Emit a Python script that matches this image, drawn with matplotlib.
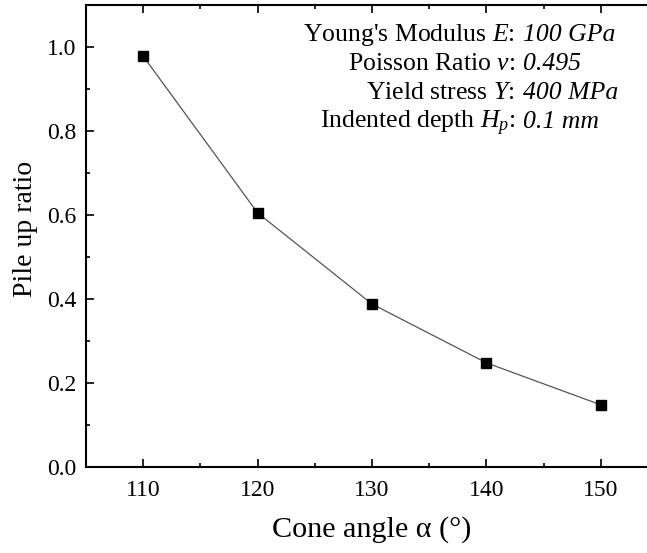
import numpy as np
import matplotlib
matplotlib.use('Agg')
import matplotlib.pyplot as plt
from matplotlib.ticker import MultipleLocator

plt.rcParams['font.family'] = ['Liberation Serif', 'DejaVu Serif']
plt.rcParams['mathtext.fontset'] = 'custom'
plt.rcParams['mathtext.rm'] = 'Liberation Serif'
plt.rcParams['mathtext.it'] = 'Liberation Serif:italic'

# data
cone_angle = [110, 120, 130, 140, 150]
pile_up = [0.978, 0.605, 0.388, 0.248, 0.148]

param_names = [r"Young's Modulus $E$:", r"Poisson Ratio $v$:",
               r"Yield stress $Y$:", r"Indented depth $H_p$:"]
param_values = ["100 GPa", "0.495", "400 MPa", "0.1 mm"]

fig = plt.figure(figsize=(6.47, 5.53), dpi=100)
ax = fig.add_axes([0.133, 0.1555, 0.884, 0.8355])

ax.plot(cone_angle, pile_up, color='#555555', linewidth=0.9,
        marker='s', markersize=7.5, markerfacecolor='black',
        markeredgecolor='black')

ax.set_xlim(105, 155)
ax.set_ylim(0, 1.1)
ax.xaxis.set_major_locator(MultipleLocator(10))
ax.xaxis.set_minor_locator(MultipleLocator(5))
ax.yaxis.set_major_locator(MultipleLocator(0.2))
ax.yaxis.set_minor_locator(MultipleLocator(0.1))
ax.yaxis.set_major_formatter(matplotlib.ticker.FormatStrFormatter('%.1f'))

ax.tick_params(which='both', direction='in', top=True, right=True,
               width=1.2, labelsize=17)
ax.tick_params(which='major', length=5.5)
ax.tick_params(which='minor', length=3.2)
ax.tick_params(axis='x', pad=9)
ax.tick_params(axis='y', pad=7)
for s in ax.spines.values():
    s.set_linewidth(1.5)

ax.set_xlabel('Cone angle α (°)', fontsize=21.7, labelpad=11)
ax.set_ylabel('Pile up ratio', fontsize=20)
ax.yaxis.set_label_coords(-0.084, 0.515)

# parameter box
y0 = 0.923
dy = 0.0632
for i in range(len(param_names)):
    ax.text(0.75, y0 - i * dy, param_names[i], transform=ax.transAxes,
            ha='right', va='baseline', fontsize=18.5)
    ax.text(0.764, y0 - i * dy, param_values[i], transform=ax.transAxes,
            ha='left', va='baseline', fontsize=18.5, style='italic')

fig.savefig('out.png', dpi=100)
